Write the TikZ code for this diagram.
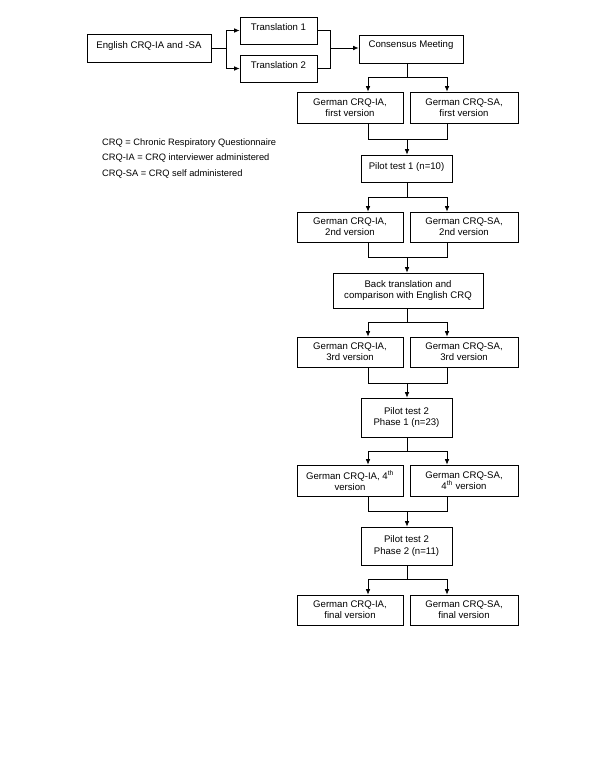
\documentclass[tikz,border=0pt]{standalone}
\usepackage{fontspec}
\setmainfont{Liberation Sans}
\usetikzlibrary{arrows.meta}
\begin{document}
\begin{tikzpicture}[x=1pt,y=-1pt,
  every node/.style={font=\fontsize{9.6}{11.3}\selectfont},
  box/.style={draw,line width=0.7pt,rectangle,align=center,inner sep=1pt},
  arr/.style={-{Latex[length=5.5pt,width=4.5pt]}},
  ln/.style={line width=0.7pt}]
\useasboundingbox (0,0) rectangle (600,776);
% top row
\node[box,minimum width=124pt,minimum height=28pt,text depth=5pt] (eng) at (149,48) {English CRQ-IA and -SA};
\node[box,minimum width=77pt,minimum height=27pt,text depth=6pt] (t1) at (278.5,30.5) {Translation 1};
\node[box,minimum width=77pt,minimum height=27pt,text depth=6pt] (t2) at (278.5,68.5) {Translation 2};
\node[box,minimum width=104pt,minimum height=28pt,text depth=10pt] (cons) at (411,49) {Consensus Meeting};
% legend
\node[anchor=west,align=left,inner sep=0pt,font=\fontsize{9.3}{15.5}\selectfont] (leg) at (102,158.5) {CRQ = Chronic Respiratory Questionnaire\\CRQ-IA = CRQ interviewer administered\\CRQ-SA = CRQ self administered};
% pair rows
\tikzset{ia/.style={box,minimum width=106pt,minimum height=#1},
         sa/.style={box,minimum width=108pt,minimum height=#1}}
\node[ia=31pt] (ia1) at (350,107.5) {German CRQ-IA,\\first version};
\node[sa=31pt] (sa1) at (464,107.5) {German CRQ-SA,\\first version};
\node[ia=30pt] (ia2) at (350,227) {German CRQ-IA,\\2nd version};
\node[sa=30pt] (sa2) at (464,227) {German CRQ-SA,\\2nd version};
\node[ia=30pt] (ia3) at (350,352) {German CRQ-IA,\\3rd version};
\node[sa=30pt] (sa3) at (464,352) {German CRQ-SA,\\3rd version};
\node[ia=31pt] (ia4) at (350,480.5) {German CRQ-IA, 4\textsuperscript{th}\\version};
\node[sa=31pt] (sa4) at (464,480.5) {German CRQ-SA,\\4\textsuperscript{th} version};
\node[ia=30pt] (ia5) at (350,610) {German CRQ-IA,\\final version};
\node[sa=30pt] (sa5) at (464,610) {German CRQ-SA,\\final version};
% center boxes
\node[box,minimum width=91pt,minimum height=27pt,text depth=5pt] (p1) at (406.5,168.5) {Pilot test 1 (n=10)};
\node[box,minimum width=150pt,minimum height=35pt] (bt) at (408,290.5) {Back translation and\\comparison with English CRQ};
\node[box,minimum width=91pt,minimum height=39pt] (p2) at (406.5,417.5) {Pilot test 2\\Phase 1 (n=23)};
\node[box,minimum width=91pt,minimum height=38pt] (p3) at (406.5,546) {Pilot test 2\\Phase 2 (n=11)};
% coordinates
\coordinate (L) at (368,0);
\coordinate (R) at (447,0);
\coordinate (s1) at (226,48);
\coordinate (m0) at (330,48);
\coordinate (b1) at (407,77);
\coordinate (m1) at (407,139);
\coordinate (b2) at (407,197);
\coordinate (m2) at (407,257);
\coordinate (b3) at (407,322);
\coordinate (m3) at (407,383);
\coordinate (b4) at (407,451);
\coordinate (m4) at (407,511);
\coordinate (b5) at (407,579);
% top connectors
\draw[ln] (eng.east) -- (s1);
\draw[ln,arr] (s1) |- (t1.west);
\draw[ln,arr] (s1) |- (t2.west);
\draw[ln] (t1.east) -| (m0);
\draw[ln] (t2.east) -| (m0);
\draw[ln,arr] (m0) -- (m0 -| cons.west);
% branches
\foreach \c/\b/\i/\s in {cons/b1/ia1/sa1, p1/b2/ia2/sa2, bt/b3/ia3/sa3, p2/b4/ia4/sa4, p3/b5/ia5/sa5}{
  \draw[ln] (\b |- \c.south) -- (\b);
  \draw[ln,arr] (\b) -| (L |- \i.north);
  \draw[ln,arr] (\b) -| (R |- \s.north);
}
% merges
\foreach \i/\s/\m/\n in {ia1/sa1/m1/p1, ia2/sa2/m2/bt, ia3/sa3/m3/p2, ia4/sa4/m4/p3}{
  \draw[ln] (L |- \i.south) |- (\m);
  \draw[ln] (R |- \s.south) |- (\m);
  \draw[ln,arr] (\m) -- (\m |- \n.north);
}
\end{tikzpicture}
\end{document}
